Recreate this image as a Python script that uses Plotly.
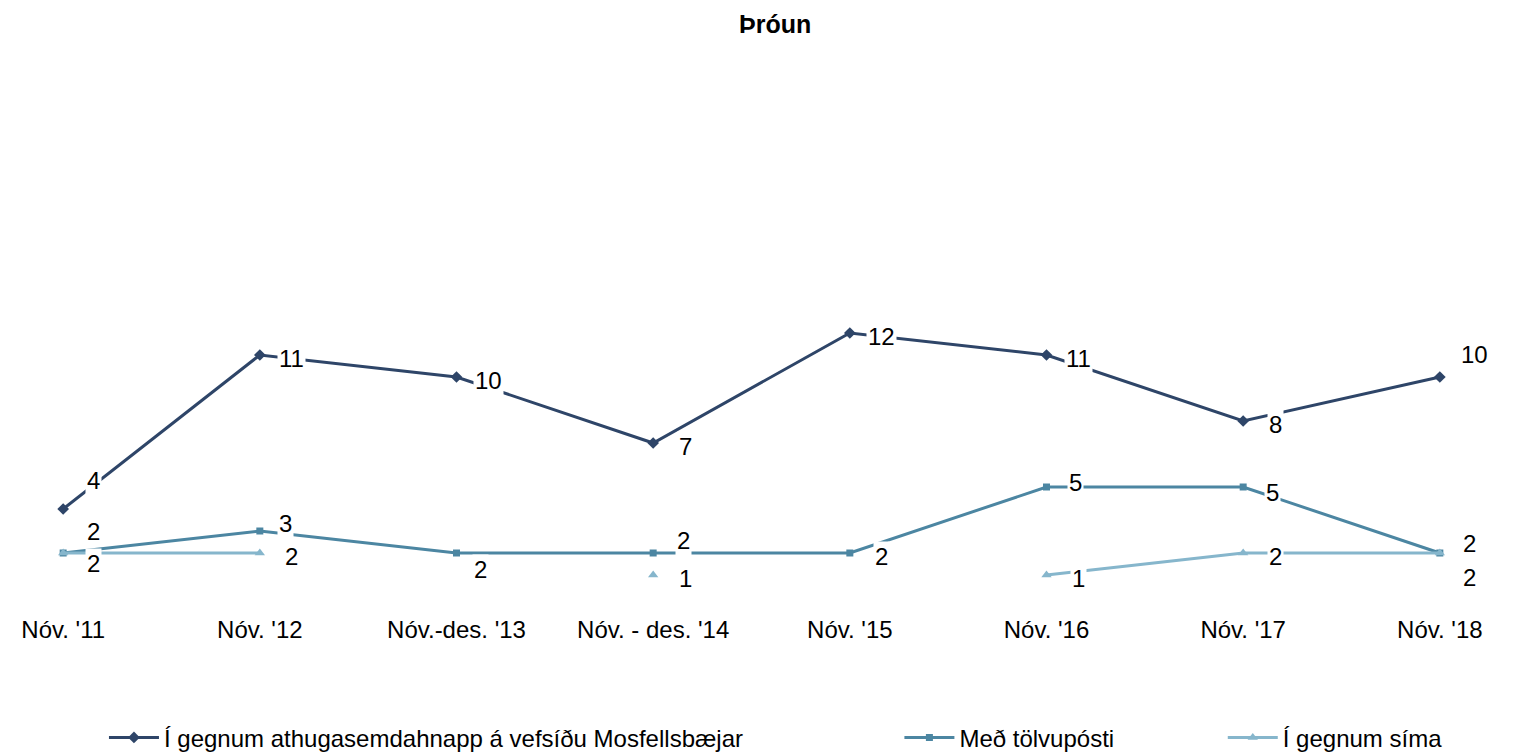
import plotly.graph_objects as go

categories = ["Nóv. '11", "Nóv. '12", "Nóv.-des. '13", "Nóv. - des. '14",
              "Nóv. '15", "Nóv. '16", "Nóv. '17", "Nóv. '18"]
app_vals = [4, 11, 10, 7, 12, 11, 8, 10]
email_vals = [2, 3, 2, 2, 2, 5, 5, 2]
phone_vals = [2, 2, None, 1, None, 1, 2, 2]

names = ["Í gegnum athugasemdahnapp á vefsíðu Mosfellsbæjar",
         "Með tölvupósti",
         "Í gegnum síma"]

colors = ["#2E4568", "#4C86A2", "#86B6CC"]
symbols = ["diamond", "square", "triangle-up"]

# label offsets (px) per series, index -> (xshift, yshift)
default_off = (32, -3)
offsets = [
    {0: (30, 29), 7: (35, 23)},
    {0: (30, 22), 1: (26, 8), 2: (24, -16), 3: (30, 13), 5: (29, 5), 6: (29, -5), 7: (30, 10)},
    {0: (30, -10), 7: (30, -24)},
]

# legend placement (container fraction) for each series
legend_x = [0.0633, 0.5880, 0.8013]

series = [app_vals, email_vals, phone_vals]

fig = go.Figure()
FONT = "Liberation Sans, Arial, sans-serif"
FS = 24
legend_ids = ["legend", "legend2", "legend3"]
for i, vals in enumerate(series):
    fig.add_trace(go.Scatter(
        x=categories, y=vals, name=names[i], mode="lines+markers",
        line=dict(color=colors[i], width=3),
        marker=dict(symbol=symbols[i], size=9 if i != 1 else 7, color=colors[i]),
        connectgaps=False, legend=legend_ids[i],
    ))

annotations = []
for i, vals in enumerate(series):
    for j, v in enumerate(vals):
        if v is None:
            continue
        dx, dy = offsets[i].get(j, default_off)
        annotations.append(dict(
            x=categories[j], y=v, text=str(v), showarrow=False,
            xshift=dx, yshift=dy, bgcolor="white",
            font=dict(family=FONT, size=FS, color="black"),
            borderpad=1,
        ))

leg_common = dict(orientation="h", xref="container", yref="container",
                  xanchor="left", y=0.032, yanchor="middle",
                  font=dict(family=FONT, size=FS, color="black"), itemwidth=50,
                  bgcolor="rgba(0,0,0,0)")

fig.update_layout(
    width=1516, height=754,
    paper_bgcolor="white", plot_bgcolor="white",
    margin=dict(l=6, r=35, t=39, b=165),
    title=dict(text="<b>Þróun</b>", x=0.506, xanchor="center", y=0.978, yanchor="middle",
               yref="container", font=dict(family=FONT, size=25, color="black")),
    font=dict(family=FONT, size=FS, color="black"),
    showlegend=True,
    legend=dict(x=legend_x[0], **leg_common),
    legend2=dict(x=legend_x[1], **leg_common),
    legend3=dict(x=legend_x[2], **leg_common),
    annotations=annotations,
    xaxis=dict(type="category", range=[-0.25, 7.25], showgrid=False, zeroline=False,
               showline=False, ticks="", ticklabelstandoff=16,
               tickfont=dict(family=FONT, size=FS, color="black")),
    yaxis=dict(range=[0, 25], showgrid=False, zeroline=False, showline=False,
               showticklabels=False, ticks=""),
)

fig.write_html("out.html")
